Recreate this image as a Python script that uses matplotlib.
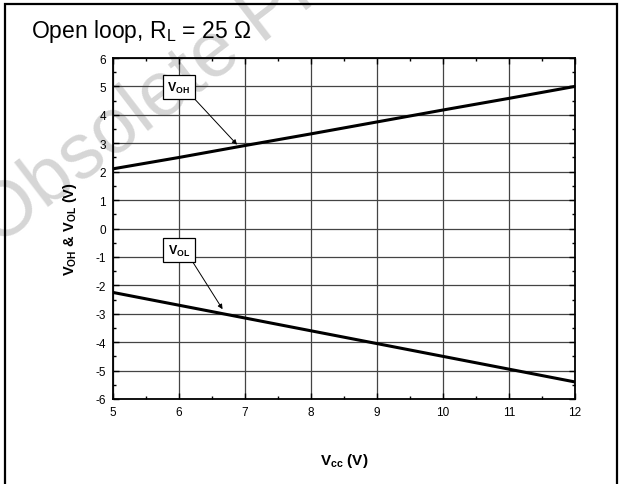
import numpy as np
import matplotlib
matplotlib.use("Agg")
import matplotlib.pyplot as plt
from matplotlib.patches import Rectangle

plt.rcParams['font.family'] = ['Liberation Sans', 'DejaVu Sans']
plt.rcParams['mathtext.fontset'] = 'custom'
plt.rcParams['mathtext.rm'] = 'Liberation Sans'
plt.rcParams['mathtext.bf'] = 'Liberation Sans:bold'
plt.rcParams['axes.unicode_minus'] = False

# supply voltage (V) and output levels (V)
vcc = [5, 6, 7, 8, 9, 10, 11, 12]
voh = [2.1, 2.5, 2.92, 3.33, 3.75, 4.17, 4.58, 5.0]
vol = [-2.25, -2.7, -3.15, -3.6, -4.05, -4.5, -4.95, -5.4]

xticks = [5, 6, 7, 8, 9, 10, 11, 12]
yticks = [-6, -5, -4, -3, -2, -1, 0, 1, 2, 3, 4, 5, 6]

fig = plt.figure(figsize=(6.19, 4.85), dpi=100)

# watermark behind everything
fig.text(-0.004, 0.49, "Obsolete Product(s)", fontsize=56, color="#d6d6d6",
         rotation=37.5, rotation_mode="anchor", ha="left", va="baseline", zorder=0)

# outer frame
fig.patches.append(Rectangle((5 / 619, -0.05), 612 / 619, 1.05 - 5 / 485,
                             transform=fig.transFigure, fill=False,
                             edgecolor="black", linewidth=1.6, zorder=1))

fig.text(31 / 619, 1 - 38 / 485, "Open loop, R$_{\\rm L}$ = 25 Ω",
         fontsize=16.5, ha="left", va="baseline")

ax = fig.add_axes([113 / 619, 85 / 485, 462 / 619, 341 / 485])
ax.set_facecolor("none")
ax.set_zorder(2)

ax.plot(vcc, voh, color="black", linewidth=2.2, zorder=3)
ax.plot(vcc, vol, color="black", linewidth=2.2, zorder=3)

ax.set_xlim(5, 12)
ax.set_ylim(-6, 6)
ax.set_xticks(xticks)
ax.set_yticks(yticks)
ax.set_xticks(np.arange(5.5, 12, 1), minor=True)
ax.set_yticks(np.arange(-5.5, 6, 1), minor=True)
ax.grid(True, which="major", color="#444444", linewidth=0.9)
ax.tick_params(which="both", direction="in", top=True, right=True,
               labelsize=8.5, width=1)
ax.tick_params(which="major", length=4, pad=5)
ax.tick_params(which="minor", length=2.5)
for s in ax.spines.values():
    s.set_linewidth(1.3)

ax.set_xlabel("V$_{\\mathbf{cc}}$ (V)", fontsize=11, fontweight="bold", labelpad=24)
ax.set_ylabel("V$_{\\mathbf{OH}}$ & V$_{\\mathbf{OL}}$ (V)", fontsize=10.5,
              fontweight="bold", labelpad=12)

box = dict(boxstyle="square,pad=0.35", facecolor="white", edgecolor="black", linewidth=0.9)
arrow = dict(arrowstyle="-|>", color="black", linewidth=0.7, mutation_scale=7,
             shrinkA=0, shrinkB=0)
ax.annotate("V$_{\\mathbf{OH}}$", xy=(6.88, 2.95), xytext=(6.0, 4.98),
            fontsize=9, fontweight="bold", ha="center", va="center",
            bbox=box, arrowprops=dict(arrow, relpos=(1, 0)), zorder=4)
ax.annotate("V$_{\\mathbf{OL}}$", xy=(6.66, -2.84), xytext=(6.0, -0.77),
            fontsize=9, fontweight="bold", ha="center", va="center",
            bbox=box, arrowprops=dict(arrow, relpos=(1, 0)), zorder=4)

fig.savefig("out.png", dpi=100)
